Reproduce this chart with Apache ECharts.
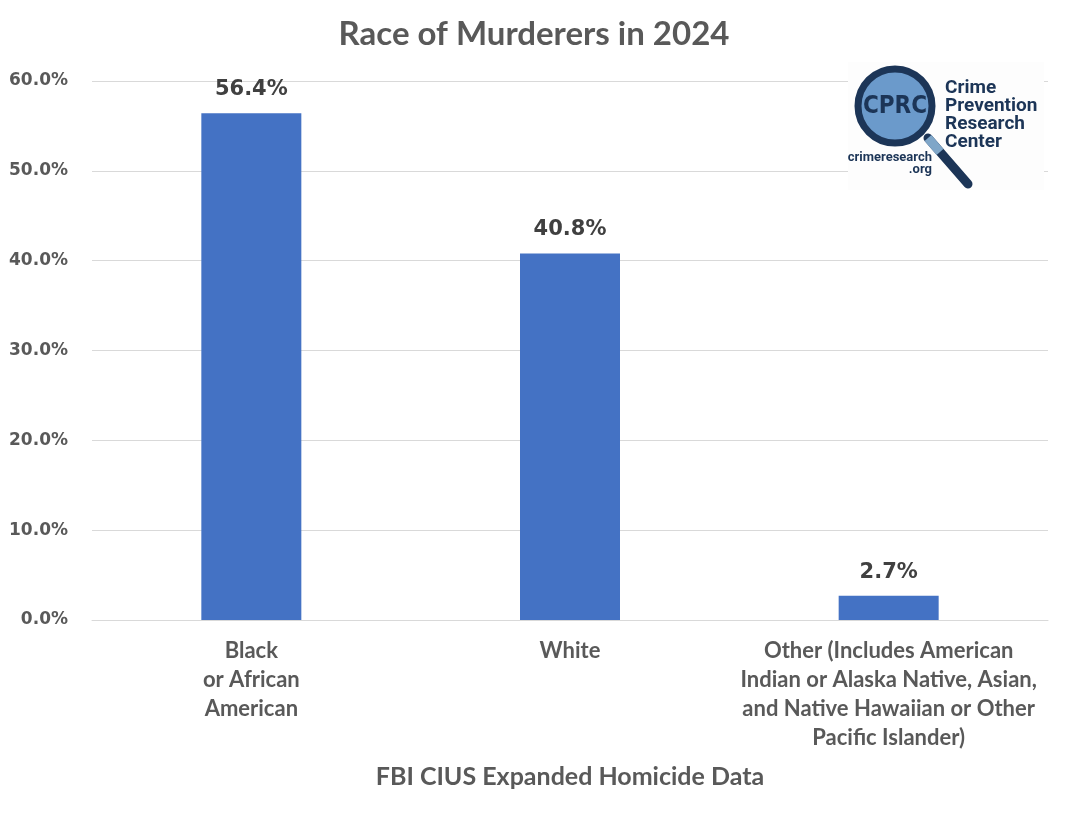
<!DOCTYPE html>
<html><head><meta charset="utf-8">
<script src="https://cdn.jsdelivr.net/npm/echarts@6/dist/echarts.min.js"></script>
<style>html,body{margin:0;padding:0;background:#fff}#c{width:1068px;height:814px}</style>
</head><body><div id="c"></div>
<script>
const categories = ['Black\nor African\nAmerican', 'White', 'Other (Includes American\nIndian or Alaska Native, Asian,\nand Native Hawaiian or Other\nPacific Islander)'];
const values = [56.4, 40.8, 2.7];
const yTicks = [0, 10, 20, 30, 40, 50, 60];

const chart = echarts.init(document.getElementById('c'));
const navy = '#1c3557';
chart.setOption({
  backgroundColor: '#fff',
  animation: false,
  title: {
    text: 'Race of Murderers in 2024', left: 'center', top: 13,
    textStyle: { fontFamily: 'Lato', fontWeight: 'bold', fontSize: 33, color: '#595959' }
  },
  grid: { left: 92, right: 20, top: 81, bottom: 194, containLabel: false },
  xAxis: {
    type: 'category', data: categories,
    name: 'FBI CIUS Expanded Homicide Data', nameLocation: 'middle', nameGap: 144,
    nameTextStyle: { fontFamily: 'Lato', fontWeight: 'bold', fontSize: 25, color: '#595959' },
    axisLine: { lineStyle: { color: '#d9d9d9', width: 1 } },
    axisTick: { show: false },
    axisLabel: { interval: 0, margin: 16, lineHeight: 29, fontFamily: 'Lato', fontWeight: 'bold', fontSize: 22, color: '#595959' }
  },
  yAxis: {
    type: 'value', min: yTicks[0], max: yTicks[yTicks.length - 1], interval: 10,
    axisLine: { show: false }, axisTick: { show: false },
    splitLine: { lineStyle: { color: '#d9d9d9', width: 1 } },
    axisLabel: { margin: 24, fontFamily: 'DejaVu Sans', fontWeight: 'bold', fontSize: 17, color: '#595959',
      formatter: v => v.toFixed(1) + '%' }
  },
  series: [{
    type: 'bar', data: values, barWidth: 100,
    itemStyle: { color: '#4472c4' },
    label: { show: true, position: 'top', distance: 13, formatter: p => p.value.toFixed(1) + '%',
      fontFamily: 'DejaVu Sans', fontWeight: 'bold', fontSize: 21, color: '#404040' }
  }],
  graphic: [
    { type: 'rect', shape: { x: 848, y: 62, width: 196, height: 128 }, style: { fill: '#fdfdfd' }, z: 10 },
    { type: 'line', shape: { x1: 928, y1: 138, x2: 968, y2: 184 }, style: { stroke: navy, lineWidth: 9, lineCap: 'round' }, z: 11 },
    { type: 'line', shape: { x1: 928, y1: 138, x2: 940, y2: 152 }, style: { stroke: '#7fa6c8', lineWidth: 9 }, z: 12 },
    { type: 'circle', shape: { cx: 895, cy: 106, r: 37 }, style: { fill: '#6b9acb', stroke: navy, lineWidth: 7 }, z: 13 },
    { type: 'text', x: 895, y: 107, style: { text: 'CPRC', align: 'center', verticalAlign: 'middle', fontFamily: 'DejaVu Sans Condensed', fontWeight: 'bold', fontSize: 24, fill: navy }, z: 14 },
    { type: 'text', x: 945, y: 79, style: { text: 'Crime\nPrevention\nResearch\nCenter', lineHeight: 18, fontFamily: 'Roboto', fontWeight: 'bold', fontSize: 19, fill: navy }, z: 14 },
    { type: 'text', x: 932, y: 152, style: { text: 'crimeresearch\n.org', align: 'right', lineHeight: 12, fontFamily: 'Roboto', fontWeight: 'bold', fontSize: 13, fill: navy }, z: 14 }
  ]
});
</script></body></html>
